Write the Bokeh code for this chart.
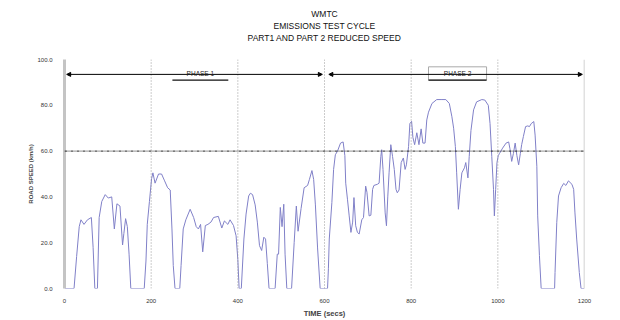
from bokeh.plotting import figure
from bokeh.models import (Range1d, Span, Arrow, NormalHead, Title, Label, FixedTicker,
                          PrintfTickFormatter)
from bokeh.embed import file_html
from bokeh.resources import INLINE

# ---- data ----
time_s = [0, 22, 28, 34, 38, 45, 53, 62, 66, 70, 76, 80, 86, 94, 101, 109, 115, 121, 128, 134, 137, 141, 145, 149, 153,
          184, 188, 191, 196, 201, 204, 209, 217, 224, 231, 238, 244, 248, 251, 255, 266, 269, 274, 280, 290, 298, 304,
          309, 314, 319, 325, 331, 338, 344, 355, 363, 369, 377, 382, 390, 396, 400, 403, 408, 414, 419, 425, 429, 434,
          440, 445, 450, 455, 460, 464, 468, 472, 486, 491, 494, 498, 502, 506, 509, 513, 524, 530, 535, 539, 546, 553,
          561, 565, 571, 575, 579, 584, 590, 607,
          609, 611, 617, 621, 625, 630, 637, 643, 647, 649, 653, 657, 661, 665, 668, 672, 676, 680, 686, 690, 695, 698,
          703, 707, 711, 714, 722, 726, 730, 732, 735, 740, 743, 746, 749, 753, 757, 761, 765, 768, 772, 777, 782, 786,
          789, 794, 797, 801, 804, 808, 813, 818, 823, 827, 832, 836, 840, 848, 859, 871, 880, 888, 894, 898, 902, 905,
          909, 913, 917, 923, 926, 931, 934, 938, 944, 951, 963, 970, 978, 982, 986, 990, 992, 995, 998, 1001, 1004,
          1011, 1019, 1025, 1028, 1032, 1036, 1040, 1044, 1048, 1052, 1055, 1059, 1064, 1069, 1073, 1077, 1083, 1086,
          1090, 1092, 1096, 1100, 1131, 1132, 1136, 1140, 1146, 1152, 1157, 1163, 1171, 1175, 1178, 1182, 1188, 1192,
          1200]
speed_kmh = [0, 0, 14, 27, 30, 28, 30, 31, 18, 0, 0, 31, 38, 41, 39.5, 40, 26, 37, 36, 19, 24, 30.5, 27, 15, 0,
             0, 12, 28, 38, 48, 50.5, 46, 50, 50, 47, 44, 43, 26, 10, 0, 0, 10, 26, 30, 34.6, 31, 27,
             26, 28, 16, 27.5, 28, 29, 31, 31.5, 26.4, 29.5, 28, 30, 27.5, 23, 12.6, 0, 0, 21.6, 32.5, 40.4, 41.6, 41,
             36.5, 29, 18.7, 16.6, 22.4, 21.6, 11, 0, 0, 15, 15, 35.4, 27, 36.8, 15, 0, 0, 20, 36, 25, 35, 44,
             45, 47.5, 51.5, 47.6, 36.5, 17.7, 0, 0,
             8.6, 21.6, 37.5, 52, 58.4, 60, 63.5, 64, 58, 46, 39, 31.7, 24.5, 29, 39.7, 27.4, 24.5, 23.8, 30, 31, 44.7, 42,
             31.7, 32, 43.3, 45, 45.5, 46, 57.7, 60.6, 52, 33, 27.4, 40, 50.5, 62.8, 57.7, 52, 43.3, 41.8, 43, 55, 57, 52,
             54, 62, 72, 73, 66, 62.8, 68, 62.8, 69.7, 63.5, 63.5, 73.6, 77, 80.8, 82.5, 82.5, 82.5, 80.8, 75, 70, 62, 50.5,
             34.6, 43.3, 50.5, 52.7, 55, 48.3, 57.7, 69, 78, 81.5, 82.5, 82.3, 80, 72, 57.7, 43.3, 31.7, 43.3, 55, 58, 59,
             61.3, 63.5, 64, 61, 55.5, 59, 63.5, 58, 54, 59, 62.8, 66.4, 70.7, 71, 70.7, 72, 72.9, 67,
             53.4, 31.7, 14.4, 0, 0, 7, 28.9, 40.4, 44, 45.9, 45, 47, 45.5, 43.3, 33, 21.6, 7, 0,
             0]
x_ticks = [0, 200, 400, 600, 800, 1000, 1200]
y_ticks = [0, 20, 40, 60, 80, 100]
grid_times = [200, 400, 600, 800, 1000]
limit_speed = 60
phase_names = ["PHASE 1", "PHASE 2"]
phase_spans = [(5, 595), (610, 1195)]
phase_box = [(249, 378), (840, 974)]
title_lines = ["WMTC", "EMISSIONS TEST CYCLE", "PART1 AND PART 2 REDUCED SPEED"]

FONT = "Liberation Sans"

p = figure(width=620, height=320, output_backend="svg", toolbar_location=None,
           x_range=Range1d(0, 1200), y_range=Range1d(0, 100),
           min_border_left=64, min_border_right=36, min_border_top=59, min_border_bottom=30,
           background_fill_color="white", border_fill_color="white")
p.outline_line_color = None
p.xgrid.visible = False
p.ygrid.visible = False

# spacer between the title block and the plot frame
p.add_layout(Title(text=" ", text_font=FONT, text_font_size="13px", standoff=0,
                   text_line_height=1.0), "above")
# titles (first added is closest to the plot)
for line in reversed(title_lines):
    t = Title(text=line, align="center", text_font=FONT, text_font_size="8.5px",
              text_font_style="normal", text_color="#111111", standoff=0,
              text_line_height=1.0)
    p.add_layout(t, "above")

# axes
p.yaxis.ticker = FixedTicker(ticks=y_ticks)
p.yaxis.formatter = PrintfTickFormatter(format="%.1f")
p.yaxis.axis_line_color = "#c4c4c4"
p.yaxis.axis_line_width = 3
p.yaxis.major_tick_line_color = None
p.yaxis.minor_tick_line_color = None
p.yaxis.major_label_text_font = FONT
p.yaxis.major_label_text_font_size = "6px"
p.yaxis.major_label_text_color = "#333333"
p.yaxis.major_label_standoff = 6
p.yaxis.axis_label = "ROAD SPEED (km/h)"
p.yaxis.axis_label_text_font = FONT
p.yaxis.axis_label_text_font_size = "6px"
p.yaxis.axis_label_text_font_style = "bold"
p.yaxis.axis_label_standoff = 0

p.xaxis.ticker = FixedTicker(ticks=x_ticks)
p.xaxis.axis_line_color = None
p.xaxis.major_tick_line_color = None
p.xaxis.minor_tick_line_color = None
p.xaxis.major_label_text_font = FONT
p.xaxis.major_label_text_font_size = "6px"
p.xaxis.major_label_text_color = "#333333"
p.xaxis.major_label_standoff = 4
p.xaxis.axis_label = "TIME (secs)"
p.xaxis.axis_label_text_font = FONT
p.xaxis.axis_label_text_font_size = "7.5px"
p.xaxis.axis_label_text_font_style = "bold"
p.xaxis.axis_label_standoff = 3

# reference lines
for g in grid_times:
    p.add_layout(Span(location=g, dimension="height", line_color="#999999",
                      line_dash="1 2", line_width=1))
p.add_layout(Span(location=1200, dimension="height", line_color="#c4c4c4", line_width=1.5))
p.add_layout(Span(location=limit_speed, dimension="width", line_color="#222222",
                  line_dash="3 1 1 1", line_width=1))

# phase arrows
arrow_y = 93.5
for (a, b) in phase_spans:
    p.add_layout(Arrow(start=NormalHead(size=4, fill_color="black", line_color="black"),
                       end=NormalHead(size=4, fill_color="black", line_color="black"),
                       x_start=a, x_end=b, y_start=arrow_y, y_end=arrow_y,
                       line_color="black", line_width=1))
box_edges = [None, "#aaaaaa"]
for name, (a, b), edge in zip(phase_names, phase_box, box_edges):
    p.quad(left=[a], right=[b], bottom=[91], top=[96.8], fill_color="white",
           line_color=edge, line_width=1)
    p.segment(x0=[a], x1=[b], y0=[91], y1=[91], line_color="#111111", line_width=1.2)
    p.add_layout(Label(x=(a + b) / 2, y=94, text=name, text_align="center", text_baseline="middle",
                       text_font=FONT, text_font_size="6.5px", text_color="#222222"))

# speed trace
p.line(time_s, speed_kmh, line_color="#8080c8", line_width=1)

open("out.html", "w").write(file_html(p, INLINE))
